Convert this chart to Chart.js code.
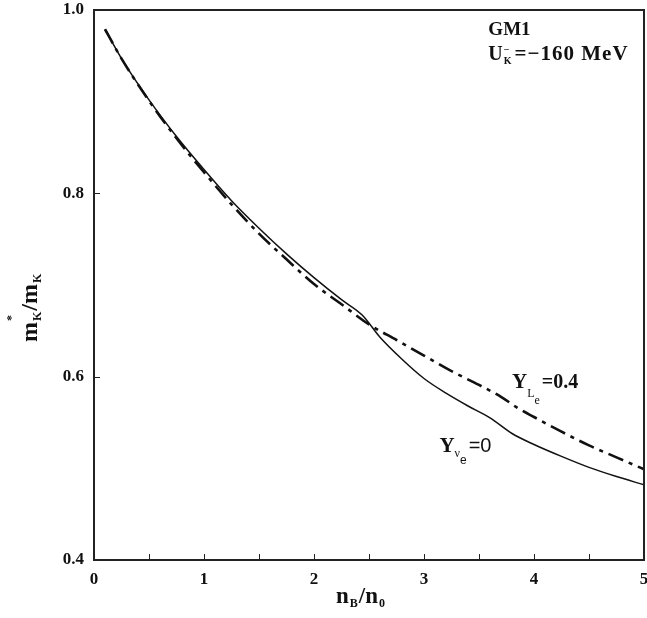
<!DOCTYPE html>
<html>
<head>
<meta charset="utf-8">
<script src="https://cdn.jsdelivr.net/npm/chart.js@4.4.1/dist/chart.umd.min.js"></script>
<style>
  body { margin: 0; background: #fff; }
  #wrap { width: 647px; height: 618px; }
</style>
</head>
<body>
<div id="wrap"><canvas id="massChart"></canvas></div>
<script>
// baryon density n_B/n_0 and effective kaon mass m*_K/m_K for both cases
const densityNoNu = [0.1, 0.25, 0.5, 0.75, 1.0, 1.25, 1.5, 1.75, 2.0, 2.25, 2.44, 2.6, 2.8, 3.0, 3.2, 3.4, 3.6, 3.8, 4.0, 4.25, 4.5, 4.75, 5.0];
const massNoNu = [0.979, 0.947, 0.902, 0.862, 0.826, 0.792, 0.762, 0.734, 0.708, 0.684, 0.667, 0.643, 0.619, 0.598, 0.582, 0.568, 0.555, 0.538, 0.526, 0.513, 0.501, 0.491, 0.482];

const densityTrapped = [0.1, 0.25, 0.5, 0.75, 1.0, 1.25, 1.5, 1.75, 2.0, 2.25, 2.5, 2.75, 3.0, 3.25, 3.5, 3.7, 3.85, 4.0, 4.25, 4.5, 4.75, 5.0];
const massTrapped = [0.979, 0.947, 0.901, 0.860, 0.823, 0.788, 0.756, 0.728, 0.701, 0.679, 0.657, 0.640, 0.623, 0.606, 0.591, 0.578, 0.566, 0.556, 0.540, 0.525, 0.512, 0.499];

const xTicks = [0, 1, 2, 3, 4, 5];
const yTicks = [0.4, 0.6, 0.8, 1.0];

const toPoints = (xs, ys) => xs.map((x, i) => ({ x: x, y: ys[i] }));

const serif = '"Liberation Serif", "Times New Roman", serif';
const sans = '"Liberation Sans", Arial, sans-serif';
const ink = '#111';

// draw a run of text pieces (for sub/superscripts), left to right
function drawRun(ctx, x, y, parts) {
    parts.forEach(p => {
        ctx.font = p.font;
        ctx.letterSpacing = p.ls || '0px';
        ctx.fillText(p.t, x + (p.dx || 0), y + (p.dy || 0));
        if (!p.stay) x += ctx.measureText(p.t).width + (p.dx || 0) + (p.gap || 0);
    });
    ctx.letterSpacing = '0px';
}

const framePlugin = {
    id: 'frame',
    afterDraw(chart) {
        const ctx = chart.ctx;
        const a = chart.chartArea;
        const xs = chart.scales.x;
        const ys = chart.scales.y;
        ctx.save();
        ctx.strokeStyle = '#222';
        ctx.lineWidth = 2;
        ctx.beginPath();
        ctx.moveTo(a.left, a.top);
        ctx.lineTo(a.right, a.top);
        ctx.lineTo(a.right, a.bottom);
        ctx.stroke();

        // inward tick marks
        ctx.lineWidth = 1;
        ctx.beginPath();
        for (let v = 0.5; v < 5; v += 0.5) {
            const px = Math.round(xs.getPixelForValue(v)) + 0.5;
            ctx.moveTo(px, a.bottom);
            ctx.lineTo(px, a.bottom - 6);
        }
        [0.6, 0.8].forEach(v => {
            const py = Math.round(ys.getPixelForValue(v)) + 0.5;
            ctx.moveTo(a.left, py);
            ctx.lineTo(a.left + 6, py);
        });
        ctx.stroke();

        ctx.fillStyle = ink;
        ctx.textBaseline = 'alphabetic';
        ctx.textAlign = 'left';

        // model labels
        const gx = xs.getPixelForValue(3.585);
        ctx.font = 'bold 19px ' + serif;
        ctx.fillText('GM1', gx, ys.getPixelForValue(0.973));
        drawRun(ctx, gx, ys.getPixelForValue(0.946), [
            { t: 'U', font: 'bold 20px ' + serif, gap: 1 },
            { t: '\u2212', font: 'bold 10px ' + serif, dy: -7, stay: true },
            { t: 'K', font: 'bold 10px ' + serif, dy: 4, gap: 3 },
            { t: '=\u2212160 MeV', font: 'bold 21px ' + serif, ls: '1px' }
        ]);

        // curve labels
        drawRun(ctx, xs.getPixelForValue(3.8), ys.getPixelForValue(0.588), [
            { t: 'Y', font: 'bold 21px ' + serif },
            { t: 'L', font: '12px ' + serif, dy: 9 },
            { t: 'e', font: '12px ' + serif, dy: 16, gap: 2 },
            { t: '=0.4', font: 'bold 20px ' + serif }
        ]);
        drawRun(ctx, xs.getPixelForValue(3.14), ys.getPixelForValue(0.518), [
            { t: 'Y', font: 'bold 21px ' + serif },
            { t: '\u03bd', font: '12px ' + serif, dy: 5 },
            { t: 'e', font: '12px ' + sans, dy: 12, gap: 2 },
            { t: '=0', font: '20px ' + sans }
        ]);

        // axis titles
        drawRun(ctx, 336, 603, [
            { t: 'n', font: 'bold 23px ' + serif, gap: 1 },
            { t: 'B', font: 'bold 12px ' + serif, dy: 4, gap: 1 },
            { t: '/n', font: 'bold 23px ' + serif, gap: 1 },
            { t: '0', font: 'bold 12px ' + serif, dy: 4 }
        ]);
        ctx.translate(37, 342);
        ctx.rotate(-Math.PI / 2);
        drawRun(ctx, 0, 0, [
            { t: 'm', font: 'bold 24px ' + serif, gap: 1 },
            { t: '*', font: 'bold 12px ' + serif, dy: -22, stay: true },
            { t: 'K', font: 'bold 12px ' + serif, dy: 4, gap: 1 },
            { t: '/m', font: 'bold 24px ' + serif, gap: 1 },
            { t: 'K', font: 'bold 12px ' + serif, dy: 4 }
        ]);
        ctx.restore();
    }
};

new Chart(document.getElementById('massChart'), {
    type: 'scatter',
    data: {
        datasets: [
            {
                label: 'Y_nu_e = 0',
                data: toPoints(densityNoNu, massNoNu),
                showLine: true,
                borderColor: ink,
                borderWidth: 1.5,
                pointRadius: 0,
                cubicInterpolationMode: 'monotone'
            },
            {
                label: 'Y_L_e = 0.4',
                data: toPoints(densityTrapped, massTrapped),
                showLine: true,
                borderColor: ink,
                borderWidth: 2.6,
                borderDash: [16, 6, 4, 6],
                pointRadius: 0,
                cubicInterpolationMode: 'monotone'
            }
        ]
    },
    options: {
        responsive: true,
        maintainAspectRatio: false,
        animation: false,
        layout: { padding: { top: 10, right: 3, left: 0, bottom: 0 } },
        plugins: {
            legend: { display: false },
            tooltip: { enabled: false }
        },
        scales: {
            x: {
                type: 'linear',
                min: 0,
                max: 5,
                afterBuildTicks: s => { s.ticks = xTicks.map(v => ({ value: v })); },
                afterFit: s => { s.height = 58; s.paddingLeft = 0; s.paddingRight = 0; },
                grid: { display: false, drawTicks: false },
                border: { display: true, color: '#222', width: 2 },
                ticks: {
                    padding: 9,
                    color: ink,
                    font: { family: serif, size: 17, weight: 'bold' },
                    callback: v => String(v)
                }
            },
            y: {
                type: 'linear',
                min: 0.4,
                max: 1.0,
                afterBuildTicks: s => { s.ticks = yTicks.map(v => ({ value: v })); },
                afterFit: s => { s.width = 94; s.paddingTop = 0; s.paddingBottom = 0; },
                grid: { display: false, drawTicks: false },
                border: { display: true, color: '#222', width: 2 },
                ticks: {
                    padding: 10,
                    color: ink,
                    font: { family: serif, size: 17, weight: 'bold' },
                    callback: v => v.toFixed(1)
                }
            }
        }
    },
    plugins: [framePlugin]
});
</script>
</body>
</html>
